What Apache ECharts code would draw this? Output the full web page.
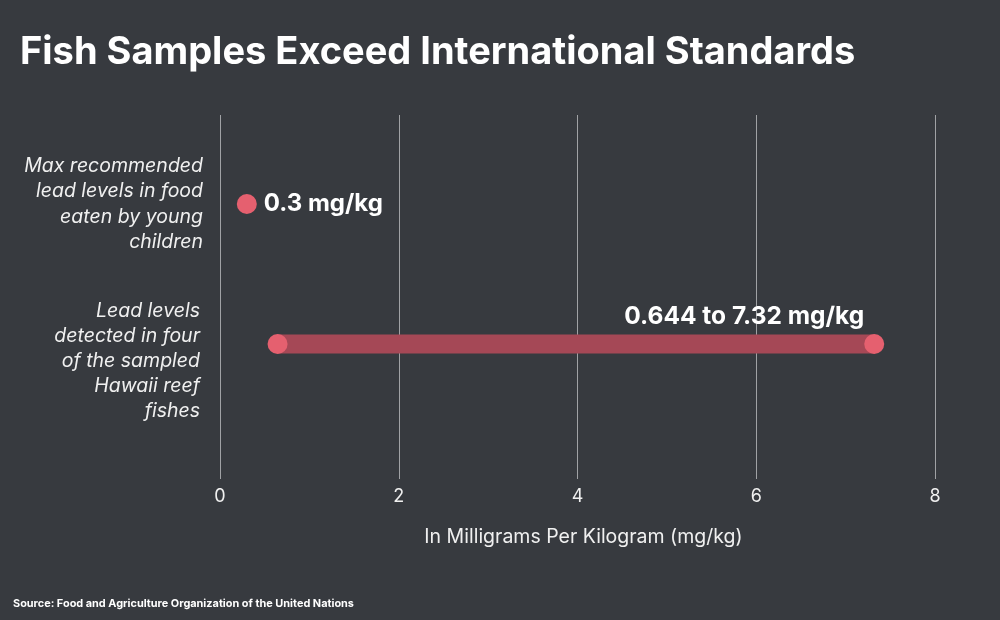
<!DOCTYPE html>
<html>
<head>
<meta charset="utf-8">
<script src="https://cdn.jsdelivr.net/npm/echarts@6/dist/echarts.min.js"></script>
<style>
	html, body { margin: 0; padding: 0; background: #373a3f; }
	#chart { width: 1000px; height: 620px; }
</style>
</head>
<body>
<div id="chart"></div>
<script>
// 数据
var categories = [
	'Max recommended\nlead levels in food\neaten by young\nchildren',
	'Lead levels\ndetected in four\nof the sampled\nHawaii reef\nfishes'
];
var maxRecommended = 0.3;          // mg/kg
var detectedRange = [0.644, 7.32]; // mg/kg
var xTicks = [0, 2, 4, 6, 8];

var FONT = 'Inter';
var dotColor = '#e5606f';
var barColor = '#a54856';

function chart() {
	var myChart = echarts.init(document.getElementById('chart'));
	var xMin = xTicks[0];
	var xMax = xTicks[xTicks.length - 1];
	var step = xTicks[1] - xTicks[0];

	var option = {
		backgroundColor: '#373a3f',
		animation: false,
		title: [{
			text: 'Fish Samples Exceed International Standards',
			left: 15,
			top: 29,
			textStyle: { color: '#fff', fontFamily: FONT, fontWeight: 'bold', fontSize: 38 }
		}, {
			text: '{b|Source:} Food and Agriculture Organization of the United Nations',
			left: 8,
			top: 593,
			textStyle: {
				color: '#fff', fontFamily: FONT, fontSize: 10.9,
				rich: { b: { fontWeight: 'bold', color: '#fff', fontFamily: FONT, fontSize: 10.9 } }
			}
		}],
		grid: [
			// 网格线和坐标轴
			{ left: 220, right: 65, top: 115, bottom: 141 },
			// 数据
			{ left: 220, right: 65, top: 134, bottom: 206 }
		],
		xAxis: [{
			gridIndex: 0,
			type: 'value',
			min: xMin,
			max: xMax,
			interval: step,
			axisLine: { show: false },
			axisTick: { show: false },
			splitLine: { show: true, lineStyle: { color: '#a0a2a5', width: 1 } },
			axisLabel: { color: '#f0f0f0', fontFamily: FONT, fontSize: 18, margin: 9 },
			name: 'In Milligrams Per Kilogram (mg/kg)',
			nameLocation: 'middle',
			nameGap: 48,
			nameTextStyle: { color: '#f0f0f0', fontFamily: FONT, fontSize: 19.5, padding: [0, 0, 0, 12] }
		}, {
			gridIndex: 1,
			type: 'value',
			min: xMin,
			max: xMax,
			show: false
		}],
		yAxis: [{
			gridIndex: 0,
			type: 'category',
			data: categories,
			show: false
		}, {
			gridIndex: 1,
			type: 'category',
			data: categories,
			inverse: true,
			axisLine: { show: false },
			axisTick: { show: false },
			splitLine: { show: false },
			axisLabel: {
				margin: 17,
				formatter: function(v, i) {
					return i === 1 ? '{b|' + v + '}' : '{a|' + v + '}';
				},
				rich: {
					a: { color: '#f0f0f0', fontFamily: FONT, fontStyle: 'italic', fontSize: 19.5, lineHeight: 25.5, align: 'right' },
					b: { color: '#f0f0f0', fontFamily: FONT, fontStyle: 'italic', fontSize: 19.5, lineHeight: 25, align: 'right', padding: [34, 3, 0, 0] }
				}
			}
		}],
		series: [{
			type: 'line',
			xAxisIndex: 1,
			yAxisIndex: 1,
			z: 2,
			data: detectedRange.map(function(v) { return [v, categories[1]]; }),
			symbol: 'none',
			lineStyle: { color: barColor, width: 19, opacity: 1 },
			silent: true
		}, {
			type: 'scatter',
			xAxisIndex: 1,
			yAxisIndex: 1,
			z: 3,
			symbolSize: 20,
			itemStyle: { color: dotColor, opacity: 1 },
			data: [{
				value: [maxRecommended, categories[0]],
				label: {
					show: true,
					position: 'right',
					distance: 7,
					fontSize: 24,
					formatter: maxRecommended + ' mg/kg'
				}
			}, {
				value: [detectedRange[0], categories[1]]
			}, {
				value: [detectedRange[1], categories[1]],
				label: {
					show: true,
					position: 'top',
					align: 'right',
					distance: 5,
					offset: [-10, 0],
					fontSize: 24.5,
					formatter: detectedRange[0] + ' to ' + detectedRange[1] + ' mg/kg'
				}
			}],
			label: { color: '#fff', fontFamily: FONT, fontWeight: 'bold' }
		}]
	};
	myChart.setOption(option);
}
chart();
</script>
</body>
</html>
